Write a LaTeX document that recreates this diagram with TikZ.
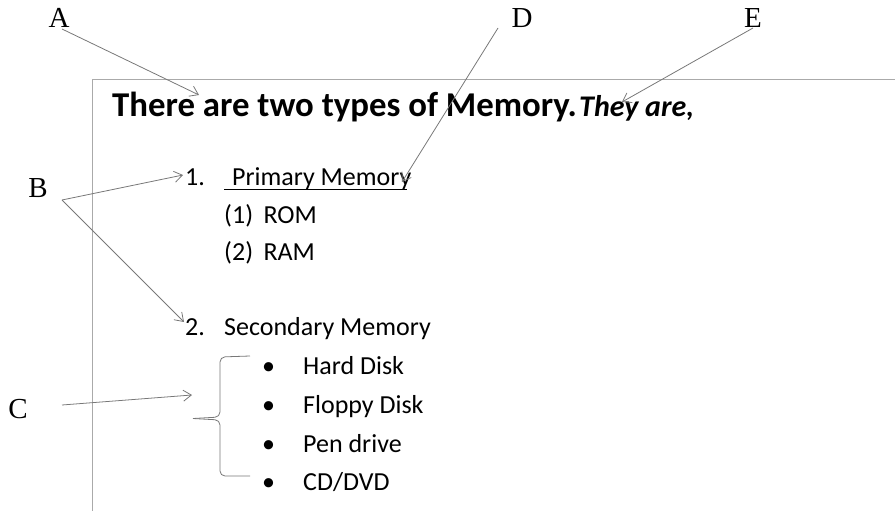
\documentclass[tikz,border=0pt]{standalone}
\usepackage{fontspec}
\setmainfont{Carlito}
\newfontfamily\lblfont{Liberation Serif}
\usetikzlibrary{arrows.meta}
\definecolor{arrowgray}{RGB}{120,120,120}
\definecolor{framegray}{RGB}{170,170,170}
\tikzset{
  lbl/.style={font=\lblfont\fontsize{29}{32}\selectfont, inner sep=0pt},
  txt/.style={font=\fontsize{26}{30}\selectfont, anchor=base west, inner sep=0pt},
  ttl/.style={font=\bfseries\fontsize{34.8}{38}\selectfont, anchor=base west, inner sep=0pt},
  pointer/.style={draw=arrowgray, line width=0.8pt, -{Straight Barb[length=8pt,width=11pt,line width=0.8pt]}},
  framel/.style={draw=framegray, line width=0.9pt},
  bracel/.style={draw=arrowgray, line width=0.8pt, rounded corners=5pt}
}
\begin{document}
\begin{tikzpicture}[x=1pt,y=-1pt]
\useasboundingbox (0,0) rectangle (895,511);
% frame
\coordinate (fTL) at (92,79);
\coordinate (fTR) at (895,79);
\coordinate (fBL) at (92,511);
\draw[framel] (fTR) -- (fTL) -- (fBL);
% title
\node[ttl] (title) at (112,117) {There are two types of Memory.};
\node[ttl, font=\bfseries\itshape\fontsize{30}{34}\selectfont] (they) at (579,117) {They are,};
% list
\node[txt] (n1) at (185,185) {1.};
\node[txt] (prim) at (232,185) {Primary Memory};
\coordinate (ulA) at (224,189);
\coordinate (ulB) at (407,189);
\draw[line width=0.9pt] (ulA) -- (ulB);
\node[txt] (rom) at (224,223) {(1)\hspace{0.4em}ROM};
\node[txt] (ram) at (224,260) {(2)\hspace{0.4em}RAM};
\node[txt] (n2) at (185,335) {2.};
\node[txt] (sec) at (224,335) {Secondary Memory};
\node[txt] (b1) at (262,374) {•};
\node[txt] (hd) at (303,374) {Hard Disk};
\node[txt] (b2) at (262,413) {•};
\node[txt] (fd) at (303,413) {Floppy Disk};
\node[txt] (b3) at (262,452) {•};
\node[txt] (pd) at (303,452) {Pen drive};
\node[txt] (b4) at (262,490) {•};
\node[txt] (cd) at (303,490) {CD/DVD};
% brace
\coordinate (brT) at (250,356);
\coordinate (brTip) at (193,418.5);
\coordinate (brB) at (250,476);
\draw[bracel] (brT) -- (220,357) -- (220,417) -- (brTip);
\draw[bracel] (brTip) -- (220,420) -- (220,476) -- (brB);
% labels
\node[lbl] (A) at (59,18) {A};
\node[lbl] (B) at (38,188) {B};
\node[lbl] (C) at (18,409) {C};
\node[lbl] (D) at (522,18) {D};
\node[lbl] (E) at (753,18) {E};
% connector ends
\coordinate (As) at (62,29);
\coordinate (Ae) at (199,95);
\coordinate (Bs) at (62,200);
\coordinate (Be1) at (183,175);
\coordinate (Be2) at (184,322);
\coordinate (Cs) at (62,405);
\coordinate (Ce) at (192,395);
\coordinate (Ds) at (498,28);
\coordinate (De) at (402,182);
\coordinate (Es) at (753,28);
\coordinate (Ee) at (622,102);
\draw[pointer] (As) -- (Ae);
\draw[pointer] (Bs) -- (Be1);
\draw[pointer] (Bs) -- (Be2);
\draw[pointer] (Cs) -- (Ce);
\draw[pointer] (Ds) -- (De);
\draw[pointer] (Es) -- (Ee);
\end{tikzpicture}
\end{document}
